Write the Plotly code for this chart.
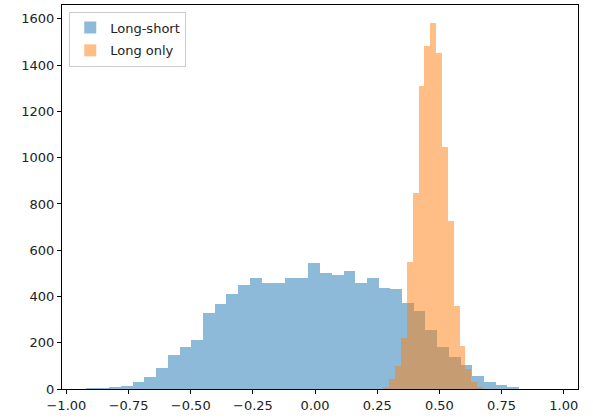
import numpy as np
import plotly.graph_objects as go

# Long-short histogram: 37 equal bins
ls_range = [-0.9215, 0.8205]
ls_counts = [3, 4, 6, 13, 29, 52, 92, 146, 180, 213, 330, 366, 411, 451, 481,
             460, 460, 481, 481, 543, 500, 492, 509, 460, 481, 437, 431, 370,
             336, 255, 183, 140, 104, 58, 32, 17, 9]

# Long only histogram: 17 equal bins
lo_range = [0.2749, 0.675]
lo_counts = [9, 42, 99, 220, 549, 846, 1309, 1483, 1583, 1454, 1045, 726,
             360, 185, 86, 32, 9]

x_ticks = [-1.0, -0.75, -0.5, -0.25, 0.0, 0.25, 0.5, 0.75, 1.0]
y_ticks = [0, 200, 400, 600, 800, 1000, 1200, 1400, 1600]


def bins(rng, counts):
    edges = np.linspace(rng[0], rng[1], len(counts) + 1)
    centers = (edges[:-1] + edges[1:]) / 2
    widths = np.diff(edges)
    return centers, widths


ls_x, ls_w = bins(ls_range, ls_counts)
lo_x, lo_w = bins(lo_range, lo_counts)

fig = go.Figure()
fig.add_trace(go.Bar(x=ls_x, y=ls_counts, width=ls_w, name="Long-short",
                     legendgroup="a",
                     marker=dict(color="#1f77b4", line=dict(width=0)),
                     opacity=0.5))
fig.add_trace(go.Bar(x=lo_x, y=lo_counts, width=lo_w, name="Long only",
                     legendgroup="b",
                     marker=dict(color="#ff7f0e", line=dict(width=0)),
                     opacity=0.5))

font = dict(family="DejaVu Sans", size=13, color="#222222")
fig.update_layout(
    width=593, height=419,
    margin=dict(l=62, r=15, t=5, b=30),
    barmode="overlay", bargap=0,
    plot_bgcolor="white", paper_bgcolor="white",
    font=font,
    showlegend=True,
    legend=dict(x=0.014, y=0.983, xanchor="left", yanchor="top",
                bgcolor="rgba(255,255,255,0.85)", bordercolor="#cccccc",
                borderwidth=1, font=dict(family="DejaVu Sans", size=13, color="#222222"),
                traceorder="grouped", tracegroupgap=3, itemwidth=30),
    xaxis=dict(range=[-1.0177, 1.0573], tickvals=x_ticks,
               ticktext=[f"{v:.2f}".replace("-", "\u2212") for v in x_ticks],
               showgrid=False, zeroline=False, showline=True, linecolor="black",
               linewidth=1, mirror=True, ticks="outside", ticklen=4,
               tickwidth=1, tickcolor="black", automargin=False),
    yaxis=dict(range=[0, 1660], tickvals=y_ticks,
               showgrid=False, zeroline=False, showline=True, linecolor="black",
               linewidth=1, mirror=True, ticks="outside", ticklen=4,
               tickwidth=1, tickcolor="black", automargin=False),
)

fig.write_html("out.html", config={"displayModeBar": False},
               post_script="document.body.style.margin='0px';")
